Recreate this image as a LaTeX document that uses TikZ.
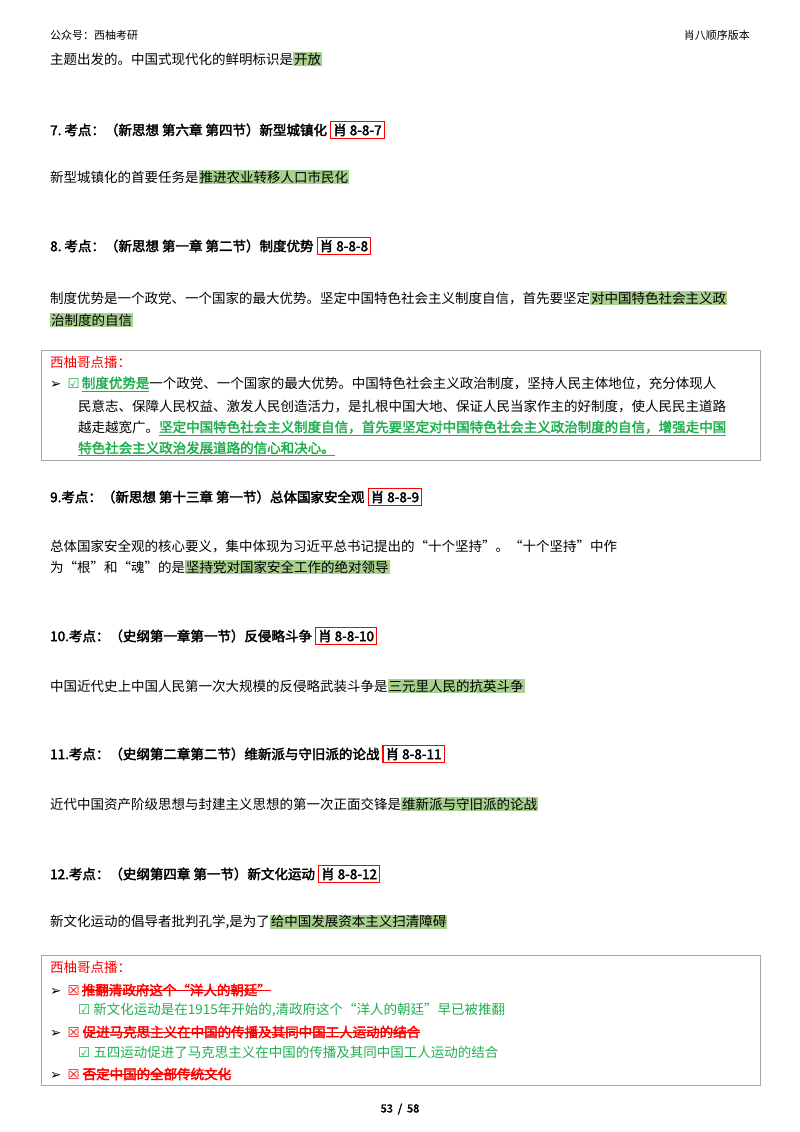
\documentclass[tikz,border=0pt]{standalone}
\usepackage{fontspec}
\setmainfont{Noto Sans CJK SC}[AutoFakeBold=2.5]
\newfontfamily\dv{DejaVu Sans}
\definecolor{hlg}{HTML}{A9D18E}
\definecolor{tg}{HTML}{1FAF4F}
\definecolor{rd}{HTML}{FF0000}
\newsavebox{\mybx}
\newcommand{\sx}[1]{\sbox{\mybx}{#1}\rlap{\usebox{\mybx}}\raisebox{0.33em}{\rule{\wd\mybx}{0.9pt}}}
\newcommand{\ux}[1]{\sbox{\mybx}{#1}\rlap{\usebox{\mybx}}\raisebox{-0.25em}{\rule{\wd\mybx}{0.9pt}}}
\newcommand{\hlx}[1]{{\setlength\fboxsep{1pt}\colorbox{hlg}{#1}}}
\newcommand{\tagx}[1]{{\setlength\fboxsep{2pt}\setlength\fboxrule{1.2pt}\fcolorbox{rd}{white}{\textbf{#1}}}}
\begin{document}
\begin{tikzpicture}[x=1pt,y=-1pt,
  t/.style={anchor=west,inner sep=0pt,font=\fontsize{13.5}{16}\selectfont},
  h/.style={t,font=\fontsize{13.5}{16}\selectfont\bfseries},
  sm/.style={anchor=west,inner sep=0pt,font=\fontsize{11}{13}\selectfont},
  bx/.style={draw=gray!70,line width=0.8pt}]
\useasboundingbox (0,0) rectangle (800,1132);
\node[sm] (hdL) at (50,35) {公众号：西柚考研};
\node[sm,anchor=east] (hdR) at (750,35) {肖八顺序版本};
\node[t] (l0) at (50,59) {主题出发的。中国式现代化的鲜明标识是\hlx{开放}};
\node[h] (h7) at (50,130) {7.\ 考点：（新思想\ 第六章\ 第四节）新型城镇化\ \tagx{肖 8-8-7}};
\node[t] (l7) at (50,177) {新型城镇化的首要任务是\hlx{推进农业转移人口市民化}};
\node[h] (h8) at (50,246) {8.\ 考点：（新思想\ 第一章\ 第二节）制度优势\ \tagx{肖 8-8-8}};
\node[t] (l8a) at (50,298) {制度优势是一个政党、一个国家的最大优势。坚定中国特色社会主义制度自信，首先要坚定\hlx{对中国特色社会主义政}};
\node[t] (l8b) at (50,320) {\hlx{治制度的自信}};
\draw[bx] (41,350) rectangle (760,460);
\node[t,text=rd] (b1t) at (50,362) {西柚哥点播：};
\node[t] (b1a) at (50,384) {{\dv ➢}\ \ {\color{tg}{\dv ☑}\,\ux{\textbf{制度优势是}}}一个政党、一个国家的最大优势。中国特色社会主义政治制度，坚持人民主体地位，充分体现人};
\node[t] (b1b) at (78,406) {民意志、保障人民权益、激发人民创造活力，是扎根中国大地、保证人民当家作主的好制度，使人民民主道路};
\node[t] (b1c) at (78,428) {越走越宽广。{\color{tg}\ux{\textbf{坚定中国特色社会主义制度自信，首先要坚定对中国特色社会主义政治制度的自信，增强走中国}}}};
\node[t] (b1d) at (78,449) {{\color{tg}\ux{\textbf{特色社会主义政治发展道路的信心和决心。}}}};
\node[h] (h9) at (50,497) {9.考点：（新思想\ 第十三章\ 第一节）总体国家安全观\ \tagx{肖 8-8-9}};
\node[t] (l9a) at (50,546) {总体国家安全观的核心要义，集中体现为习近平总书记提出的“十个坚持”。“十个坚持”中作};
\node[t] (l9b) at (50,567) {为“根”和“魂”的是\hlx{坚持党对国家安全工作的绝对领导}};
\node[h] (h10) at (50,636) {10.考点：（史纲第一章第一节）反侵略斗争\ \tagx{肖 8-8-10}};
\node[t] (l10) at (50,686) {中国近代史上中国人民第一次大规模的反侵略武装斗争是\hlx{三元里人民的抗英斗争}};
\node[h] (h11) at (50,754) {11.考点：（史纲第二章第二节）维新派与守旧派的论战\ \tagx{肖 8-8-11}};
\node[t] (l11) at (50,804) {近代中国资产阶级思想与封建主义思想的第一次正面交锋是\hlx{维新派与守旧派的论战}};
\node[h] (h12) at (50,874) {12.考点：（史纲第四章\ 第一节）新文化运动\ \tagx{肖 8-8-12}};
\node[t] (l12) at (50,922) {新文化运动的倡导者批判孔学,是为了\hlx{给中国发展资本主义扫清障碍}};
\draw[bx] (41,955) rectangle (760,1085);
\node[t,text=rd] (b2t) at (50,967) {西柚哥点播：};
\node[t] (b2a) at (50,990) {{\dv ➢}\ \ {\color{rd}{\dv ☒}\,\sx{\textbf{推翻清政府这个“洋人的朝廷”}}}};
\node[t,text=tg] (b2b) at (78,1010) {{\dv ☑}\ 新文化运动是在1915年开始的,清政府这个“洋人的朝廷”早已被推翻};
\node[t] (b2c) at (50,1032) {{\dv ➢}\ \ {\color{rd}{\dv ☒}\ \sx{\textbf{促进马克思主义在中国的传播及其同中国工人运动的结合}}}};
\node[t,text=tg] (b2d) at (78,1052) {{\dv ☑}\ 五四运动促进了马克思主义在中国的传播及其同中国工人运动的结合};
\node[t] (b2e) at (50,1074) {{\dv ➢}\ \ {\color{rd}{\dv ☒}\ \sx{\textbf{否定中国的全部传统文化}}}};
\node[sm,anchor=center] (ft) at (400,1109) {\textbf{53\ \ /\ \ 58}};
\end{tikzpicture}
\end{document}
